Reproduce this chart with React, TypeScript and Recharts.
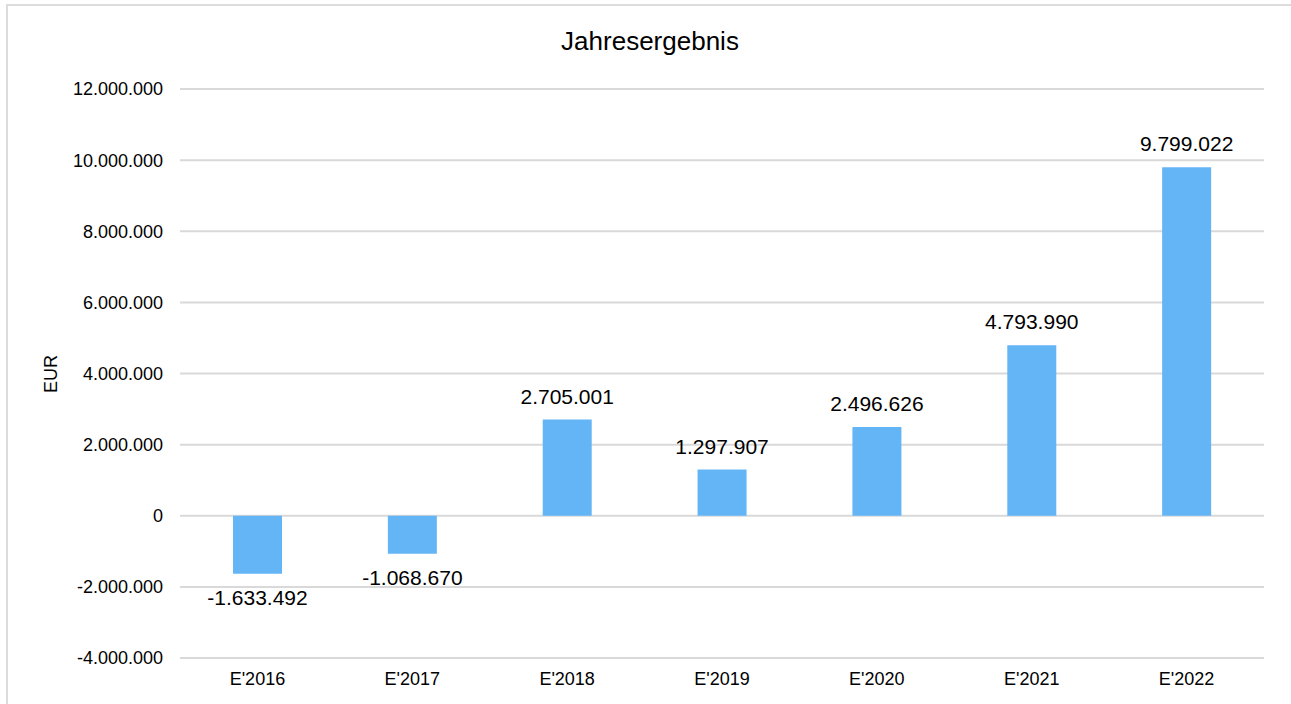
import React from "react";
import { BarChart, Bar, XAxis, YAxis, CartesianGrid, LabelList } from "recharts";

const categories = ["E'2016", "E'2017", "E'2018", "E'2019", "E'2020", "E'2021", "E'2022"];
const values = [-1633492, -1068670, 2705001, 1297907, 2496626, 4793990, 9799022];
const yTicks = [-4000000, -2000000, 0, 2000000, 4000000, 6000000, 8000000, 10000000, 12000000];

const data = categories.map((c, i) => ({ name: c, value: values[i] }));

const fmt = (v: number) => {
  const neg = v < 0;
  const s = Math.abs(Math.round(v)).toString().replace(/\B(?=(\d{3})+(?!\d))/g, ".");
  return (neg ? "-" : "") + s;
};

const FONT = "'Liberation Sans', Arial, sans-serif";

export default function App() {
  return (
    <div style={{ position: "absolute", left: 0, top: 0, width: 1291, height: 704, overflow: "hidden", background: "#fff" }}>
      <div
        style={{
          position: "absolute",
          left: 6,
          top: 4,
          width: 1320,
          height: 800,
          border: "2px solid #dcdcdc",
          boxSizing: "border-box",
        }}
      />
      <div style={{ position: "absolute", left: 0, top: 0 }}>
        <BarChart
          width={1291}
          height={704}
          data={data}
          margin={{ top: 89, right: 27, bottom: 16, left: 30 }}
          style={{ fontFamily: FONT }}
        >
          <CartesianGrid vertical={false} stroke="#d9d9d9" strokeWidth={2} />
          <XAxis
            dataKey="name"
            axisLine={false}
            tickLine={false}
            height={30}
            tickMargin={8}
            tick={{ fontSize: 18, fill: "#000", fontFamily: FONT }}
          />
          <YAxis
            width={150}
            domain={[-4000000, 12000000]}
            ticks={yTicks}
            tickFormatter={fmt}
            axisLine={false}
            tickLine={false}
            tickMargin={11}
            interval={0}
            tick={{ fontSize: 18, fill: "#000", fontFamily: FONT }}
          />
          <Bar dataKey="value" fill="#64B5F6" barSize={49} isAnimationActive={false}>
            <LabelList
              dataKey="value"
              position="top"
              offset={16}
              formatter={(v: any) => fmt(Number(v))}
              style={{ fontSize: 21, fill: "#000", fontFamily: FONT }}
            />
          </Bar>
          <text x={650} y={50} textAnchor="middle" fontSize={26} fill="#000" fontFamily={FONT}>
            Jahresergebnis
          </text>
          <text
            x={51}
            y={374}
            textAnchor="middle"
            dominantBaseline="central"
            fontSize={18}
            fill="#000"
            fontFamily={FONT}
            transform="rotate(-90 51 374)"
          >
            EUR
          </text>
        </BarChart>
      </div>
    </div>
  );
}
